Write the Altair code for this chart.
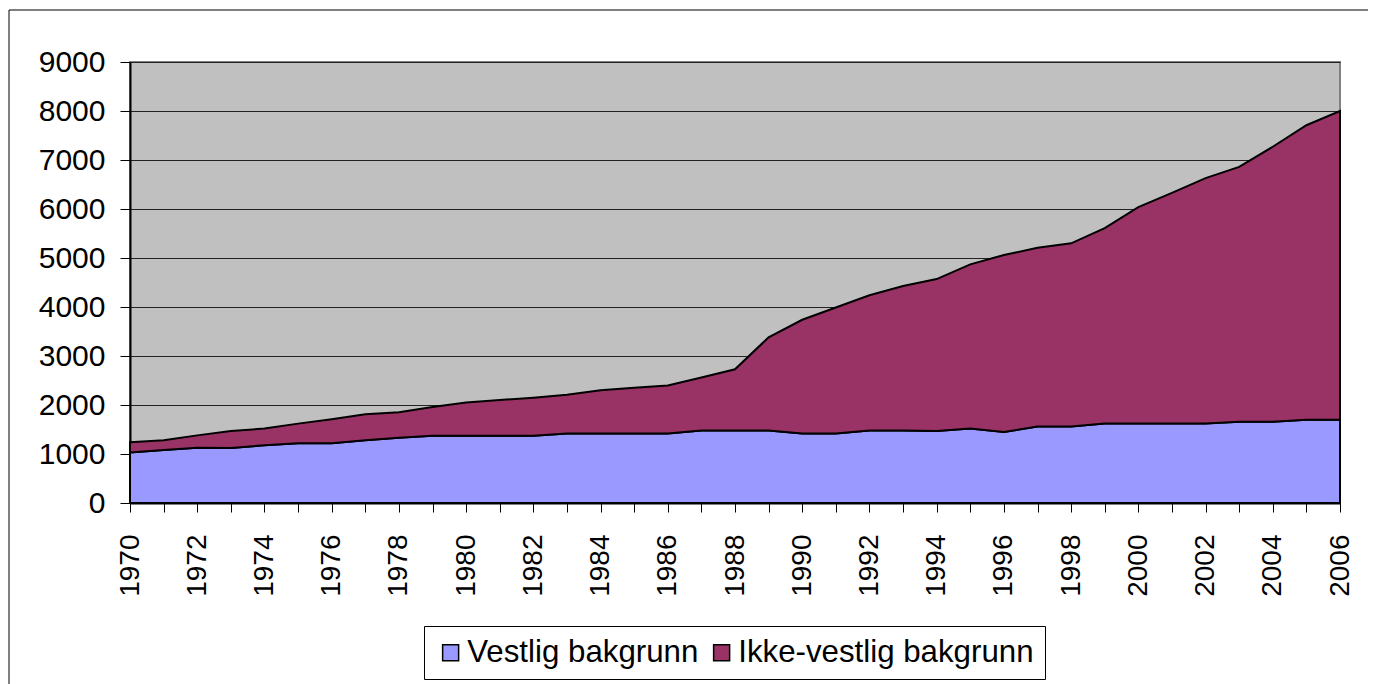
import altair as alt
import pandas as pd

years = list(range(1970, 2007))
vestlig = [1030, 1080, 1130, 1120, 1180, 1220, 1220, 1280, 1330, 1370,
           1370, 1370, 1370, 1420, 1420, 1420, 1420, 1480, 1480, 1480,
           1420, 1420, 1480, 1480, 1470, 1520, 1450, 1560, 1560, 1620,
           1620, 1620, 1620, 1660, 1660, 1700, 1700]
total = [1240, 1280, 1380, 1470, 1520, 1620, 1710, 1810, 1850, 1960,
         2050, 2100, 2150, 2210, 2300, 2350, 2400, 2560, 2730, 3380,
         3740, 3990, 4240, 4430, 4570, 4870, 5060, 5210, 5300, 5610,
         6040, 6330, 6630, 6860, 7270, 7710, 8000]
ikke_vestlig = [t - v for t, v in zip(total, vestlig)]

series_names = ["Vestlig bakgrunn", "Ikke-vestlig bakgrunn"]
series_colors = ["#9999FF", "#993366"]
y_ticks = list(range(0, 10000, 1000))

rows = []
for i, yr in enumerate(years):
    rows.append({"year": yr, "serie": series_names[0], "value": vestlig[i], "ord": 0})
    rows.append({"year": yr, "serie": series_names[1], "value": ikke_vestlig[i], "ord": 1})
df = pd.DataFrame(rows)

FONT = "Liberation Sans"
W, H = 1210, 441

areas = alt.Chart(df).mark_area(stroke="black", strokeWidth=2).encode(
    x=alt.X("year:Q",
            scale=alt.Scale(domain=[1970, 2006], nice=False, zero=False),
            axis=alt.Axis(values=years, labelExpr="datum.value % 2 == 0 ? datum.value : ''",
                          labelAngle=270, labelAlign="right", labelBaseline="middle",
                          labelFontSize=28, labelPadding=22, tickSize=9, tickColor="black",
                          domainColor="black", domainWidth=2, grid=False, title=None,
                          labelOverlap=False, labelFlush=False)),
    y=alt.Y("value:Q", stack="zero",
            scale=alt.Scale(domain=[0, 9000], nice=False),
            axis=alt.Axis(values=y_ticks, format="d", labelFontSize=30, labelPadding=15,
                          tickSize=10, tickColor="black", domainColor="black", domainWidth=2,
                          grid=True, gridColor="#222222", gridWidth=1, title=None)),
    color=alt.Color("serie:N",
                    scale=alt.Scale(domain=series_names, range=series_colors),
                    legend=alt.Legend(title=None, orient="none", legendX=294, legendY=564,
                                      direction="horizontal", symbolType="square",
                                      symbolSize=256, symbolStrokeColor="black",
                                      symbolStrokeWidth=1.5, labelFontSize=31.25,
                                      labelFont=FONT, labelLimit=500, labelOffset=1,
                                      columnPadding=7, padding=11, strokeColor="black",
                                      fillColor="white")),
    order=alt.Order("ord:Q"),
)

border = alt.Chart(alt.Data(values=[{"a": 1}])).mark_rect(
    fill="transparent", stroke="black", strokeWidth=1
).encode(
    x=alt.value(-121), x2=alt.value(W + 200),
    y=alt.value(-52), y2=alt.value(H + 300),
)

chart = alt.layer(border, areas).properties(
    width=W, height=H,
    autosize=alt.AutoSizeParams(type="none"),
    padding={"left": 122, "top": 54, "right": 28, "bottom": 181},
).configure_view(
    fill="#C0C0C0", stroke="#808080", strokeWidth=2
).configure_axis(
    labelFont=FONT, labelColor="black"
)

chart.save("out.html", embed_options={"renderer": "svg", "actions": False})
